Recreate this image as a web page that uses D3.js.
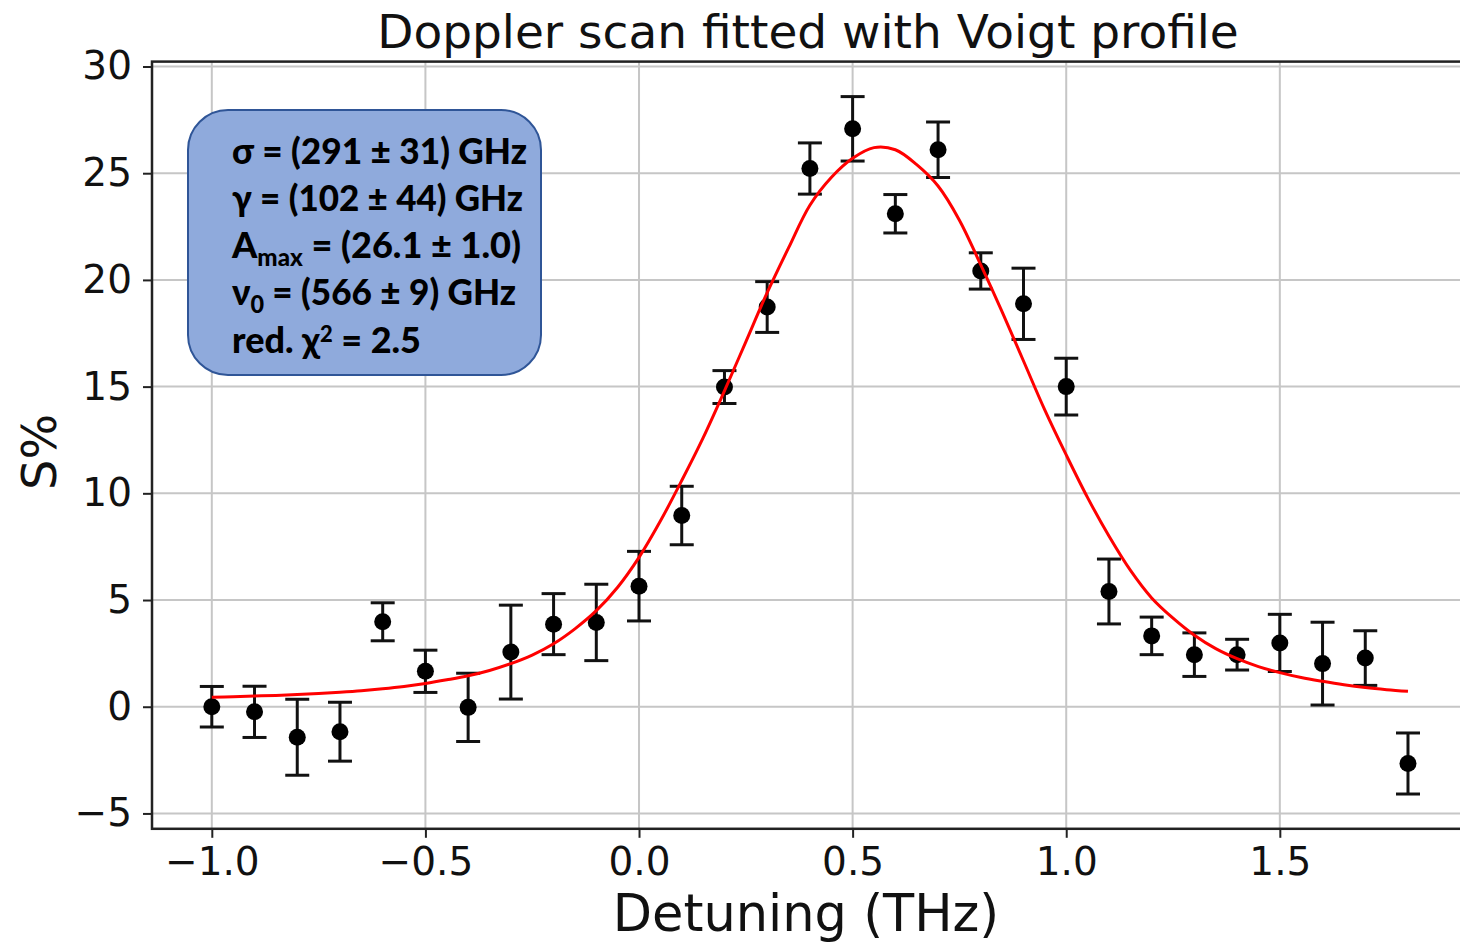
<!DOCTYPE html>
<html>
<head>
<meta charset="utf-8">
<script src="https://cdn.jsdelivr.net/npm/d3@7"></script>
<style>
  html, body { margin: 0; padding: 0; background: #fff; }
  svg { display: block; }
</style>
</head>
<body>
<svg id="chart" width="1460" height="943"></svg>
<script>
// Measured Doppler scan: detuning (THz), signal S% and its uncertainty
const detuning = [-1.0, -0.9, -0.8, -0.7, -0.6, -0.5, -0.4, -0.3, -0.2, -0.1,
                  0.0, 0.1, 0.2, 0.3, 0.4, 0.5, 0.6, 0.7, 0.8, 0.9,
                  1.0, 1.1, 1.2, 1.3, 1.4, 1.5, 1.6, 1.7, 1.8];
const signal = [0.0, -0.24, -1.43, -1.17, 3.98, 1.66, -0.03, 2.56, 3.87, 3.95,
                5.65, 8.96, 14.98, 18.73, 25.22, 27.08, 23.1, 26.1, 20.42, 18.88,
                15.0, 5.4, 3.32, 2.44, 2.44, 2.99, 2.02, 2.28, -2.66];
const signalErr = [0.95, 1.2, 1.78, 1.38, 0.89, 0.99, 1.6, 2.2, 1.43, 1.79,
                   1.63, 1.37, 0.77, 1.19, 1.2, 1.51, 0.9, 1.3, 0.85, 1.67,
                   1.33, 1.52, 0.88, 1.02, 0.72, 1.34, 1.94, 1.28, 1.43];

// Fitted Voigt curve, sampled along the detuning axis
const fitDetuning = [-1.0, -0.95, -0.9, -0.85, -0.8, -0.75, -0.7, -0.65, -0.6, -0.55,
                     -0.5, -0.45, -0.4, -0.35, -0.3, -0.25, -0.2, -0.15, -0.1, -0.05,
                     0.0, 0.05, 0.1, 0.15, 0.2, 0.25, 0.3, 0.35, 0.4, 0.45,
                     0.5, 0.55, 0.6, 0.65, 0.7, 0.75, 0.8, 0.85, 0.9, 0.95,
                     1.0, 1.05, 1.1, 1.15, 1.2, 1.25, 1.3, 1.35, 1.4, 1.45,
                     1.5, 1.55, 1.6, 1.65, 1.7, 1.75, 1.8];
const fitSignal = [0.44, 0.47, 0.5, 0.53, 0.57, 0.62, 0.68, 0.75, 0.84, 0.95,
                   1.09, 1.26, 1.45, 1.7, 2.02, 2.42, 2.95, 3.65, 4.5, 5.6,
                   7.0, 8.7, 10.6, 12.6, 14.8, 17.1, 19.4, 21.5, 23.5, 24.8,
                   25.7, 26.2, 26.1, 25.4, 24.4, 22.8, 20.7, 18.5, 16.2, 13.9,
                   11.8, 9.8, 8.0, 6.4, 5.1, 4.15, 3.35, 2.72, 2.25, 1.88,
                   1.6, 1.37, 1.19, 1.03, 0.9, 0.8, 0.72];

const xTicks = [-1.0, -0.5, 0.0, 0.5, 1.0, 1.5];
const yTicks = [-5, 0, 5, 10, 15, 20, 25, 30];

const fitParams = [
  { main: "σ = (291 ± 31) GHz" },
  { main: "γ = (102 ± 44) GHz" },
  { main: "A", sub: "max", rest: " = (26.1 ± 1.0)" },
  { main: "ν", sub: "0", rest: " = (566 ± 9) GHz" },
  { main: "red. χ", sup: "2", rest: " = 2.5" }
];

const titleText = "Doppler scan fitted with Voigt profile";
const xLabel = "Detuning (THz)";
const yLabel = "S%";

// ---- layout ----
const plot = { left: 152, right: 1467.8, top: 61.6, bottom: 828.8 };
const axisFont = "'DejaVu Sans', sans-serif";

const svg = d3.select("#chart");

const x = d3.scaleLinear().domain([-1.14, 1.94]).range([plot.left, plot.right]);
const y = d3.scaleLinear().domain([-5.72, 30.23]).range([plot.bottom, plot.top]);

// grid
const grid = svg.append("g").attr("class", "grid");
grid.selectAll("line.gx").data(xTicks).join("line")
  .attr("x1", d => x(d)).attr("x2", d => x(d))
  .attr("y1", plot.top).attr("y2", plot.bottom)
  .attr("stroke", "#c6c6c6").attr("stroke-width", 2);
grid.selectAll("line.gy").data(yTicks).join("line")
  .attr("x1", plot.left).attr("x2", plot.right)
  .attr("y1", d => y(d)).attr("y2", d => y(d))
  .attr("stroke", "#c6c6c6").attr("stroke-width", 2);

// axes
const xAxis = svg.append("g")
  .attr("transform", `translate(0,${plot.bottom})`)
  .call(d3.axisBottom(x).tickValues(xTicks).tickFormat(d3.format(".1f"))
        .tickSize(9).tickPadding(10).tickSizeOuter(0));
const yAxis = svg.append("g")
  .attr("transform", `translate(${plot.left},0)`)
  .call(d3.axisLeft(y).tickValues(yTicks).tickFormat(d3.format("d"))
        .tickSize(9).tickPadding(11).tickSizeOuter(0));
[xAxis, yAxis].forEach(a => {
  a.select(".domain").remove();
  a.selectAll(".tick line").attr("stroke", "#222").attr("stroke-width", 2);
  a.selectAll(".tick text").attr("fill", "#111")
    .style("font-family", axisFont).style("font-size", "39px");
});

// frame
svg.append("rect")
  .attr("x", plot.left).attr("y", plot.top)
  .attr("width", plot.right - plot.left).attr("height", plot.bottom - plot.top)
  .attr("fill", "none").attr("stroke", "#222").attr("stroke-width", 2.5);

// error bars and markers
const pts = detuning.map((d, i) => ({ x: d, y: signal[i], e: signalErr[i] }));
const eb = svg.append("g").attr("stroke", "#111").attr("stroke-width", 3);
const capHalf = 12;
eb.selectAll("line.bar").data(pts).join("line")
  .attr("x1", d => x(d.x)).attr("x2", d => x(d.x))
  .attr("y1", d => y(d.y + d.e)).attr("y2", d => y(d.y - d.e));
eb.selectAll("line.capTop").data(pts).join("line")
  .attr("x1", d => x(d.x) - capHalf).attr("x2", d => x(d.x) + capHalf)
  .attr("y1", d => y(d.y + d.e)).attr("y2", d => y(d.y + d.e));
eb.selectAll("line.capBot").data(pts).join("line")
  .attr("x1", d => x(d.x) - capHalf).attr("x2", d => x(d.x) + capHalf)
  .attr("y1", d => y(d.y - d.e)).attr("y2", d => y(d.y - d.e));
svg.append("g").selectAll("circle").data(pts).join("circle")
  .attr("cx", d => x(d.x)).attr("cy", d => y(d.y)).attr("r", 8.5)
  .attr("fill", "#000");

// fitted curve
const fit = fitDetuning.map((d, i) => [d, fitSignal[i]]);
svg.append("path")
  .datum(fit)
  .attr("d", d3.line().x(d => x(d[0])).y(d => y(d[1])).curve(d3.curveCatmullRom.alpha(0.5)))
  .attr("fill", "none").attr("stroke", "#ff0000").attr("stroke-width", 3);

// titles
svg.append("text")
  .attr("x", 808).attr("y", 48)
  .attr("text-anchor", "middle")
  .style("font-family", axisFont).style("font-size", "47px").attr("fill", "#111")
  .text(titleText);
svg.append("text")
  .attr("x", 806).attr("y", 931)
  .attr("text-anchor", "middle")
  .style("font-family", axisFont).style("font-size", "51px").attr("fill", "#111")
  .text(xLabel);
svg.append("text")
  .attr("transform", "translate(56,452) rotate(-90)")
  .attr("text-anchor", "middle")
  .style("font-family", axisFont).style("font-size", "48px").attr("fill", "#111")
  .text(yLabel);

// fit parameter box
const box = svg.append("g");
box.append("rect")
  .attr("x", 188).attr("y", 110).attr("width", 353).attr("height", 265)
  .attr("rx", 40).attr("ry", 40)
  .attr("fill", "#8faadc").attr("stroke", "#2f5597").attr("stroke-width", 2);

const lineBase = [164, 211, 258, 305, 353];
const lineWidth = [295, 291, 289, 284, 189];
fitParams.forEach((p, i) => {
  const t = box.append("text")
    .attr("x", 232).attr("y", lineBase[i])
    .attr("textLength", lineWidth[i]).attr("lengthAdjust", "spacingAndGlyphs")
    .style("font-family", "Lato, 'Open Sans', sans-serif")
    .style("font-weight", "900").style("font-size", "36px")
    .attr("fill", "#000");
  t.append("tspan").text(p.main);
  if (p.sub) {
    t.append("tspan").attr("dy", 8).style("font-size", "24px").text(p.sub);
    t.append("tspan").attr("dy", -8).text(p.rest);
  }
  if (p.sup) {
    t.append("tspan").attr("dy", -11).style("font-size", "22px").text(p.sup);
    t.append("tspan").attr("dy", 11).text(p.rest);
  }
});
</script>
</body>
</html>
